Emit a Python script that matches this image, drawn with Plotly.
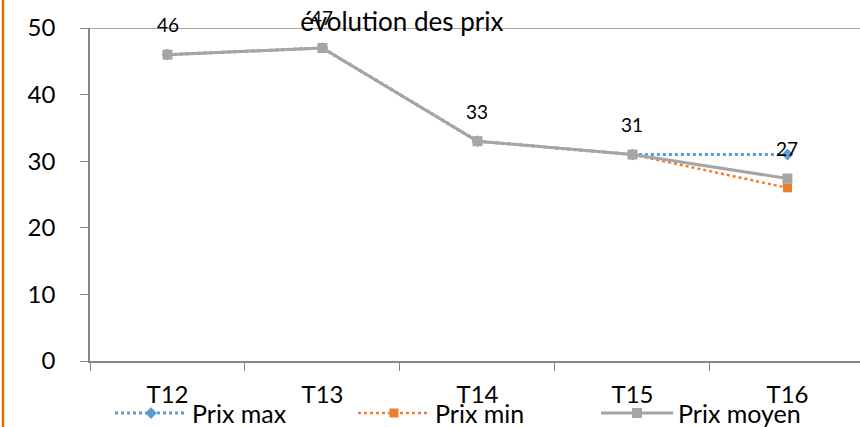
import plotly.graph_objects as go

categories = ["T12", "T13", "T14", "T15", "T16"]
prix_max = [46, 47, 33, 31, 31]
prix_min = [46, 47, 33, 31, 26]
prix_moyen = [46, 47, 33, 31, 27.4]
label_texts = ["46", "47", "33", "31", "27"]

FONT = "Lato"
fig = go.Figure()
fig.add_trace(go.Scatter(
    x=categories, y=prix_max, name="Prix max", mode="lines+markers",
    line=dict(color="#5B9BD5", width=3, dash="dot"),
    marker=dict(symbol="diamond", size=9, color="#5B9BD5"),
))
fig.add_trace(go.Scatter(
    x=categories, y=prix_min, name="Prix min", mode="lines+markers",
    line=dict(color="#ED7D31", width=2.5, dash="dot"),
    marker=dict(symbol="square", size=9, color="#ED7D31"),
))
fig.add_trace(go.Scatter(
    x=categories, y=prix_moyen, name="Prix moyen", mode="lines+markers",
    line=dict(color="#A5A5A5", width=3),
    marker=dict(symbol="square", size=10, color="#A5A5A5"),
))

for c, v, t in zip(categories, prix_moyen, label_texts):
    fig.add_annotation(x=c, y=v, text=t, showarrow=False, yshift=30,
                       font=dict(family=FONT, size=19, color="#000000"))

# top border line at 50
fig.add_shape(type="line", xref="paper", yref="y", x0=0, x1=1, y0=50, y1=50,
              line=dict(color="#868686", width=1.5), layer="below")
# orange vertical line at left edge
fig.add_shape(type="line", xref="paper", yref="paper", x0=-0.113, x1=-0.113,
              y0=-0.25, y1=1.2, line=dict(color="#E36C09", width=2.5))

fig.update_layout(
    width=860, height=427,
    margin=dict(l=90, r=0, t=28, b=66),
    paper_bgcolor="white", plot_bgcolor="white",
    font=dict(family=FONT, size=24, color="#000000"),
    title=dict(text="évolution des prix", x=0.405, xref="paper", xanchor="center",
               y=0.948, yref="container", yanchor="middle",
               font=dict(family=FONT, size=26, color="#000000")),
    xaxis=dict(range=[-0.5, 4.468], showgrid=False, showline=True,
               linecolor="#868686", linewidth=1.5, ticks="outside",
               tickson="boundaries", ticklen=8, tickcolor="#868686",
               tickwidth=1, tickfont=dict(size=24), zeroline=False,
               automargin=False, ticklabelstandoff=11),
    yaxis=dict(range=[0, 50], dtick=10, showgrid=False, showline=True,
               linecolor="#868686", linewidth=1.5, ticks="outside",
               ticklen=8, tickcolor="#868686", tickwidth=1,
               tickfont=dict(size=24), zeroline=False, ticklabelstandoff=20,
               automargin=False),
    showlegend=True,
    legend=dict(orientation="h", x=0.026, xanchor="left",
                yref="container", y=0.032, yanchor="middle",
                entrywidth=156, entrywidthmode="pixels", bgcolor="rgba(0,0,0,0)",
                font=dict(size=25), itemwidth=72, tracegroupgap=0),
)

fig.write_html("out.html", post_script="document.body.style.margin='0px';",
               config={"displayModeBar": False})
